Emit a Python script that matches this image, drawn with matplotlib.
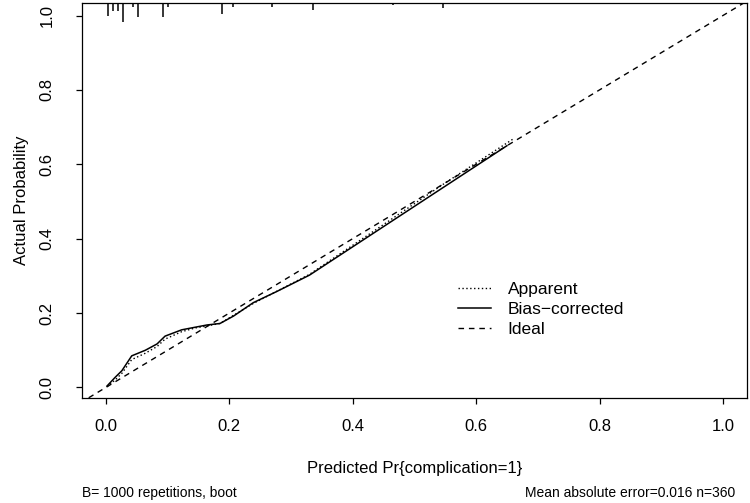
import matplotlib
matplotlib.use("Agg")
import matplotlib.pyplot as plt

plt.rcParams['font.family'] = ['Liberation Sans', 'DejaVu Sans']

# calibration curves
apparent_x = [0.002, 0.015, 0.026, 0.042, 0.064, 0.083, 0.096, 0.123, 0.145, 0.185, 0.239, 0.330, 0.450, 0.550, 0.660]
apparent_y = [0.002, 0.020, 0.038, 0.075, 0.092, 0.110, 0.130, 0.150, 0.160, 0.172, 0.226, 0.304, 0.438, 0.550, 0.668]

bias_x = [0.002, 0.015, 0.026, 0.042, 0.064, 0.083, 0.096, 0.123, 0.145, 0.164, 0.185, 0.207, 0.239, 0.277, 0.330, 0.650]
bias_y = [0.004, 0.027, 0.045, 0.085, 0.100, 0.117, 0.138, 0.155, 0.162, 0.168, 0.172, 0.192, 0.228, 0.258, 0.302, 0.650]

# distribution of predicted risk (rug at top), relative counts
rug_x = [0.003, 0.011, 0.019, 0.028, 0.036, 0.044, 0.052, 0.060, 0.076, 0.084, 0.092, 0.100,
         0.133, 0.157, 0.189, 0.206, 0.238, 0.270, 0.335, 0.465, 0.546, 0.652, 0.814]
rug_counts = [9, 6, 6, 13, 1, 3, 10, 1, 1, 1, 10, 3, 1, 1, 8, 3, 1, 3, 5, 2, 4, 1, 1]

ticks = [0.0, 0.2, 0.4, 0.6, 0.8, 1.0]
XLIM = (-0.039, 1.039)
YLIM = (-0.028, 1.035)

fig = plt.figure(figsize=(7.5, 5.03), dpi=100)
ax = fig.add_axes([0.109, 0.209, 0.887, 0.786])

# ideal line across the whole panel
ax.plot([-0.1, 1.1], [-0.1, 1.1], color='black', lw=1.0, dashes=(4, 3.5), label='Ideal')
ax.plot(apparent_x, apparent_y, color='black', lw=1.0, dashes=(1, 1.8), label='Apparent')
ax.plot(bias_x, bias_y, color='black', lw=1.1, label='Bias\u2212corrected')

unit = 0.004  # rug length per count
ax.vlines(rug_x, [YLIM[1] - c * unit for c in rug_counts], YLIM[1], color='black', lw=1.1)

ax.set_xlim(*XLIM)
ax.set_ylim(*YLIM)
ax.set_xticks(ticks)
ax.set_yticks(ticks)
ax.set_xticklabels(['%.1f' % t for t in ticks])
ax.set_yticklabels(['%.1f' % t for t in ticks], rotation=90, va='center')
ax.tick_params(axis='x', length=4.5, width=0.9, pad=11, labelsize=12)
ax.tick_params(axis='y', length=4.5, width=0.9, pad=15, labelsize=12)
for s in ax.spines.values():
    s.set_linewidth(0.9)

ax.set_xlabel('Predicted Pr{complication=1}', fontsize=12, labelpad=19)
ax.set_ylabel('Actual Probability', fontsize=12, labelpad=8)

handles, labels = ax.get_legend_handles_labels()
order = [1, 2, 0]
ax.legend([handles[i] for i in order], [labels[i] for i in order],
          loc='upper left', bbox_to_anchor=(0.566, 0.294), frameon=False,
          fontsize=12.5, handlelength=1.9, handletextpad=0.95,
          labelspacing=0.28, borderpad=0, borderaxespad=0)

fig.text(0.109, 0.02, 'B= 1000 repetitions, boot', fontsize=10, ha='left', va='center')
fig.text(0.98, 0.02, 'Mean absolute error=0.016 n=360', fontsize=10, ha='right', va='center')

fig.savefig('out.png', dpi=100)
